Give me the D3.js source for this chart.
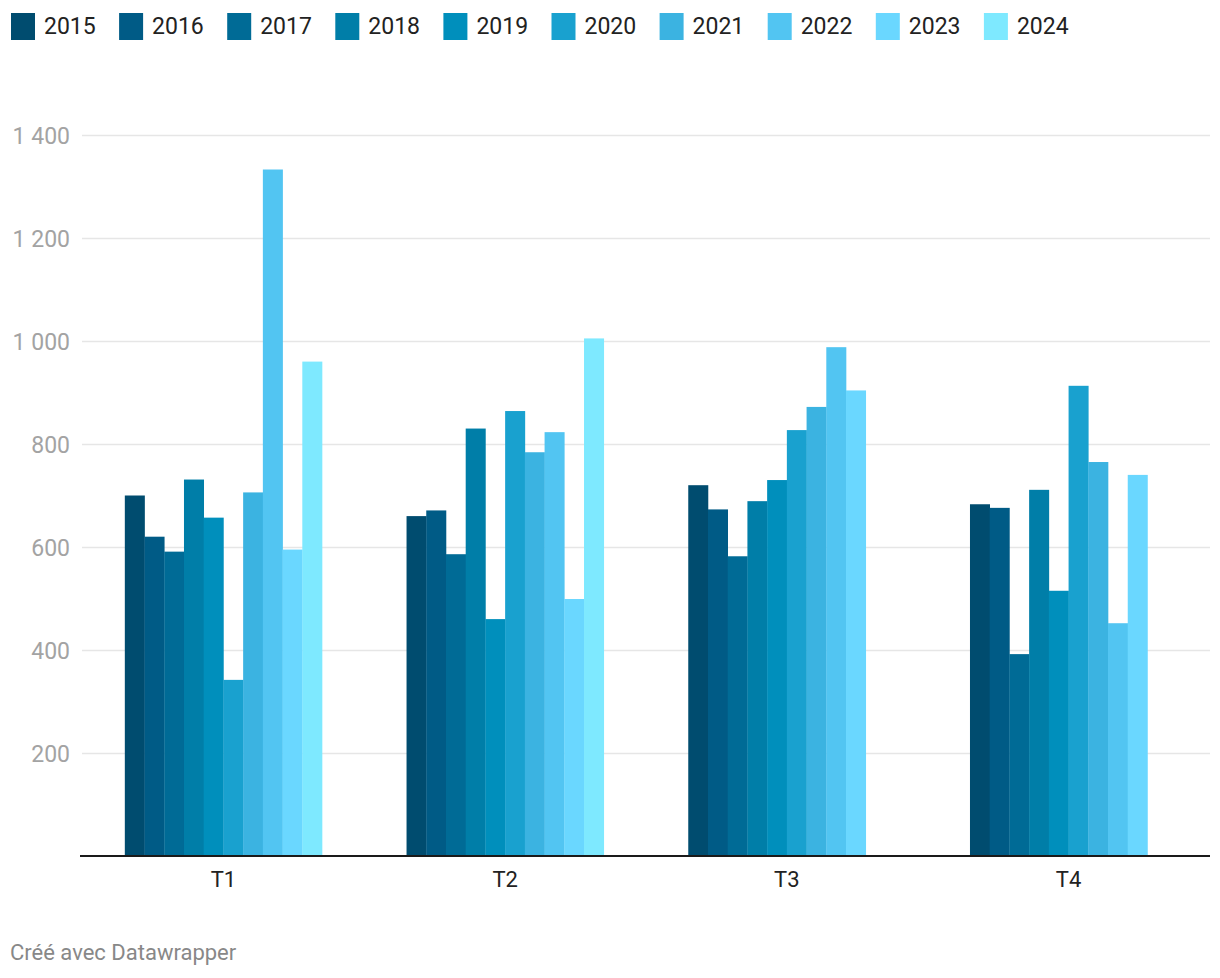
<!DOCTYPE html>
<html><head><meta charset="utf-8">
<script src="https://cdn.jsdelivr.net/npm/d3@7"></script>
<style>
html,body{margin:0;padding:0;background:#fff;}
text{font-family:Roboto,"Noto Sans",sans-serif;}
</style></head>
<body><svg id="c" width="1220" height="978"></svg>
<script>
const categories = ["T1","T2","T3","T4"];
const years = ["2015","2016","2017","2018","2019","2020","2021","2022","2023","2024"];
const colors = ["#004c6f","#005b86","#006b96","#007ea8","#008fbc","#19a1cf","#3bb3e1","#52c5f2","#6ad7ff","#7ee9ff"];
const v2015 = [700, 660, 720, 683];
const v2016 = [620, 671, 673, 676];
const v2017 = [591, 586, 582, 392];
const v2018 = [731, 830, 689, 711];
const v2019 = [657, 460, 730, 515];
const v2020 = [342, 864, 827, 913];
const v2021 = [706, 784, 872, 765];
const v2022 = [1333, 823, 988, 452];
const v2023 = [595, 499, 904, 740];
const v2024 = [960, 1005, null, null];
const yTicks = [200, 400, 600, 800, 1000, 1200, 1400];

const series = [v2015,v2016,v2017,v2018,v2019,v2020,v2021,v2022,v2023,v2024];
const svg = d3.select("#c");
const mLeft = 80, mRight = 1210, mTop = 135, mBottom = 856;

const x0 = d3.scaleBand().domain(categories).range([mLeft + 2, mRight]).paddingInner(0.3).paddingOuter(0.152);
const x1 = d3.scaleBand().domain(years).range([0, x0.bandwidth()]).padding(0);
const y = d3.scaleLinear().domain([0, 1400]).range([mBottom, mTop]);

// gridlines
const yAxis = d3.axisLeft(y).tickValues(yTicks).tickSize(-(mRight - mLeft - 2))
  .tickFormat(d => d3.format(",")(d).replace(/,/g, "\u00a0"));
const gy = svg.append("g").attr("transform", `translate(${mLeft + 2},0)`).call(yAxis);
gy.select(".domain").remove();
gy.selectAll(".tick line").attr("stroke", "#e6e6e6").attr("stroke-width", 1.5);
gy.selectAll(".tick text").attr("x", -12).attr("fill", "#a3a3a3").attr("font-size", 23).attr("dy", "0.35em");

// bars
const g = svg.append("g");
categories.forEach((c, ci) => {
  series.forEach((s, si) => {
    const v = s[ci];
    if (v == null) return;
    g.append("rect")
      .attr("x", x0(c) + x1(years[si]))
      .attr("y", y(v))
      .attr("width", x1.bandwidth() + 0.3)
      .attr("height", y(0) - y(v))
      .attr("fill", colors[si]);
  });
});

// baseline & x axis
const xAxis = d3.axisBottom(x0).tickSize(0).tickPadding(15);
const gx = svg.append("g").attr("transform", `translate(0,${mBottom})`).call(xAxis);
gx.select(".domain").remove();
gx.selectAll(".tick text").attr("font-size", 22).attr("fill", "#222");
svg.append("line").attr("x1", mLeft).attr("x2", mRight).attr("y1", mBottom).attr("y2", mBottom)
  .attr("stroke", "#1a1a1a").attr("stroke-width", 2);

// legend
const lg = svg.append("g");
years.forEach((yr, i) => {
  const lx = 11 + i * 108.1;
  lg.append("rect").attr("x", lx).attr("y", 13).attr("width", 24).attr("height", 27).attr("fill", colors[i]);
  lg.append("text").attr("x", lx + 33).attr("y", 34).attr("font-size", 23).attr("fill", "#222").text(yr);
});

// footer
svg.append("text").attr("x", 10).attr("y", 960).attr("font-size", 22).attr("fill", "#888").text("Créé avec Datawrapper");
</script>
</body></html>
